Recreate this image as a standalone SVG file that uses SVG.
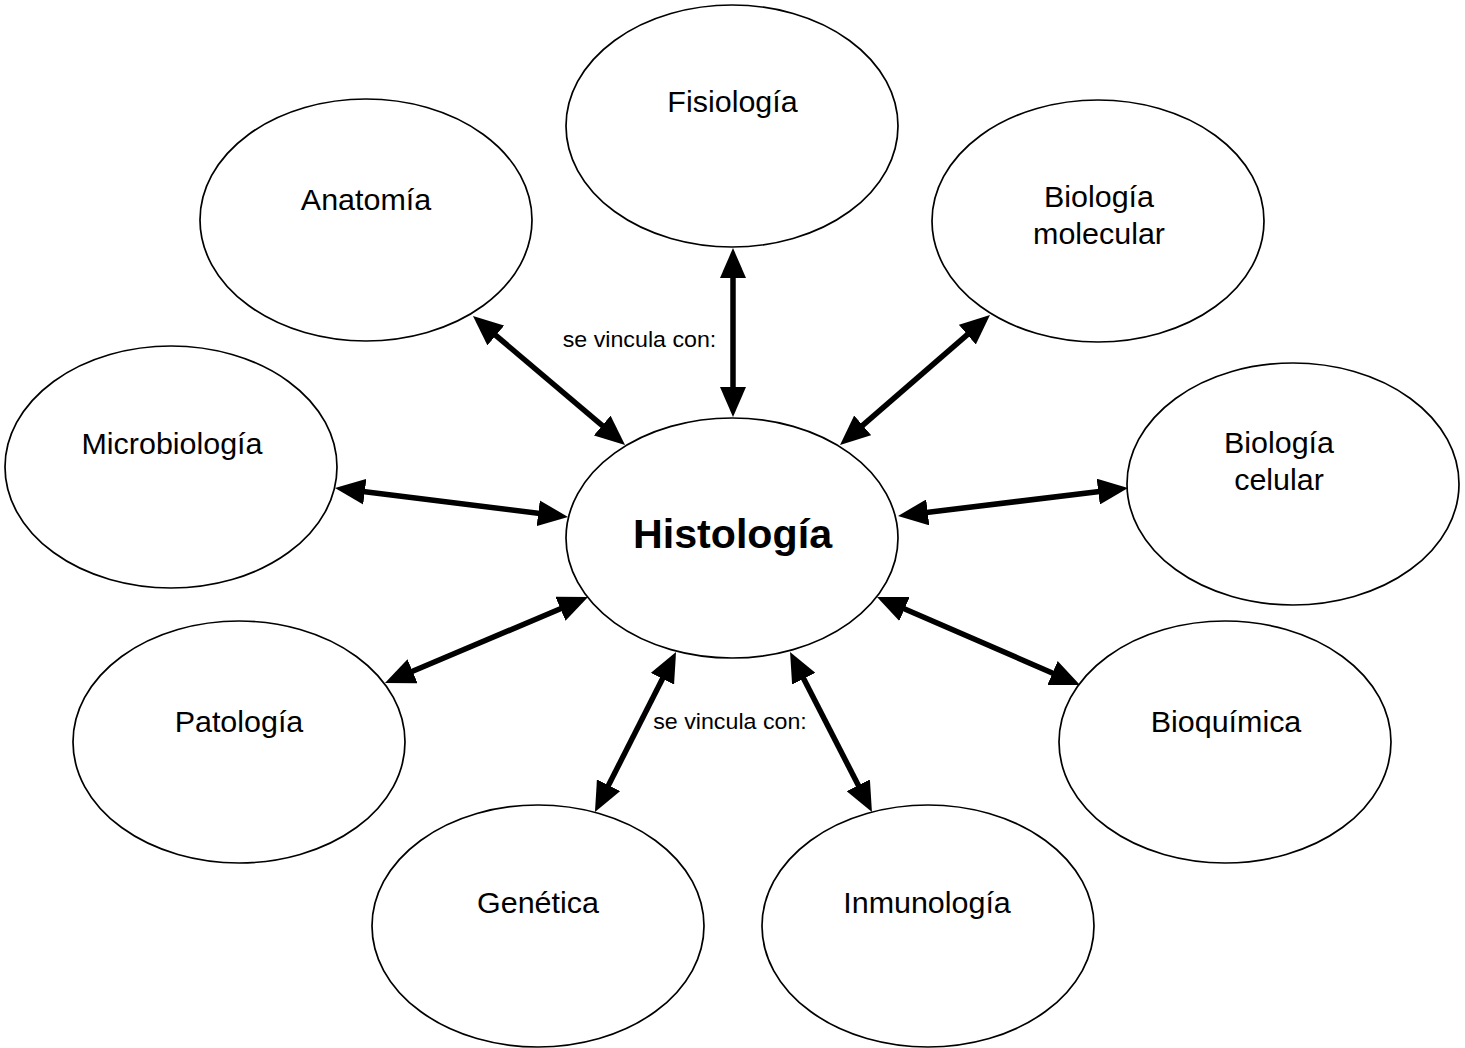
<svg xmlns="http://www.w3.org/2000/svg" width="1465" height="1048" viewBox="0 0 1465 1048">
<style>
.node ellipse{fill:#fff;stroke:#000;stroke-width:1.7}
.lbl{font-family:"Liberation Sans",Arial,sans-serif;font-size:29px;fill:#000;text-anchor:middle}
.main{font-family:"Liberation Sans",Arial,sans-serif;font-size:40px;font-weight:bold;fill:#000;text-anchor:middle}
.link{font-family:"Liberation Sans",Arial,sans-serif;font-size:21.5px;fill:#000;text-anchor:middle}
.conn line{stroke:#000;stroke-width:5.5;marker-start:url(#ah);marker-end:url(#ah)}
</style>
<defs>
<marker id="ah" markerUnits="userSpaceOnUse" markerWidth="30" markerHeight="26" refX="18" refY="13" orient="auto-start-reverse" viewBox="0 0 30 26">
<path d="M0,0 L30,13 L0,26 z" fill="#000"/>
</marker>
</defs>
<rect width="1465" height="1048" fill="#fff"/>
<g id="connectors" class="conn">
<line x1="482.1" y1="323.8" x2="615.9" y2="437.2"/>
<line x1="733" y1="260" x2="733" y2="405"/>
<line x1="980.9" y1="322.9" x2="849.1" y2="437.1"/>
<line x1="1116.1" y1="489.5" x2="909.9" y2="514.5"/>
<line x1="346.9" y1="489.5" x2="556.1" y2="515.5"/>
<line x1="396" y1="678.3" x2="577" y2="601.7"/>
<line x1="888" y1="601.8" x2="1069" y2="680.2"/>
<line x1="670.6" y1="662.7" x2="600.4" y2="801.3"/>
<line x1="795.5" y1="662.7" x2="866.5" y2="801.3"/>
</g>
<g id="fisiologia" class="node"><ellipse cx="732" cy="126" rx="166" ry="121"/><text class="lbl" transform="translate(732.5,112) scale(1.05,1)">Fisiología</text></g>
<g id="anatomia" class="node"><ellipse cx="366" cy="220" rx="166" ry="121"/><text class="lbl" transform="translate(366,210) scale(1.05,1)">Anatomía</text></g>
<g id="biologia-molecular" class="node"><ellipse cx="1098" cy="221" rx="166" ry="121"/><text class="lbl" transform="translate(1099,207) scale(1.05,1)">Biología</text><text class="lbl" transform="translate(1099,244) scale(1.05,1)">molecular</text></g>
<g id="microbiologia" class="node"><ellipse cx="171" cy="467" rx="166" ry="121"/><text class="lbl" transform="translate(172,454) scale(1.05,1)">Microbiología</text></g>
<g id="histologia" class="node"><ellipse cx="732" cy="538" rx="166" ry="120"/><text class="main" transform="translate(732.5,548) scale(1.03,1)">Histología</text></g>
<g id="biologia-celular" class="node"><ellipse cx="1293" cy="484" rx="166" ry="121"/><text class="lbl" transform="translate(1279,453) scale(1.05,1)">Biología</text><text class="lbl" transform="translate(1279,490) scale(1.05,1)">celular</text></g>
<g id="patologia" class="node"><ellipse cx="239" cy="742" rx="166" ry="121"/><text class="lbl" transform="translate(239,732) scale(1.05,1)">Patología</text></g>
<g id="bioquimica" class="node"><ellipse cx="1225" cy="742" rx="166" ry="121"/><text class="lbl" transform="translate(1226,732) scale(1.05,1)">Bioquímica</text></g>
<g id="genetica" class="node"><ellipse cx="538" cy="926" rx="166" ry="121"/><text class="lbl" transform="translate(538,913) scale(1.05,1)">Genética</text></g>
<g id="inmunologia" class="node"><ellipse cx="928" cy="926" rx="166" ry="121"/><text class="lbl" transform="translate(927,913) scale(1.05,1)">Inmunología</text></g>
<g id="labels">
<text class="link" transform="translate(639.5,347) scale(1.08,1)">se vincula con:</text>
<text class="link" transform="translate(730,729) scale(1.08,1)">se vincula con:</text>
</g>
</svg>
